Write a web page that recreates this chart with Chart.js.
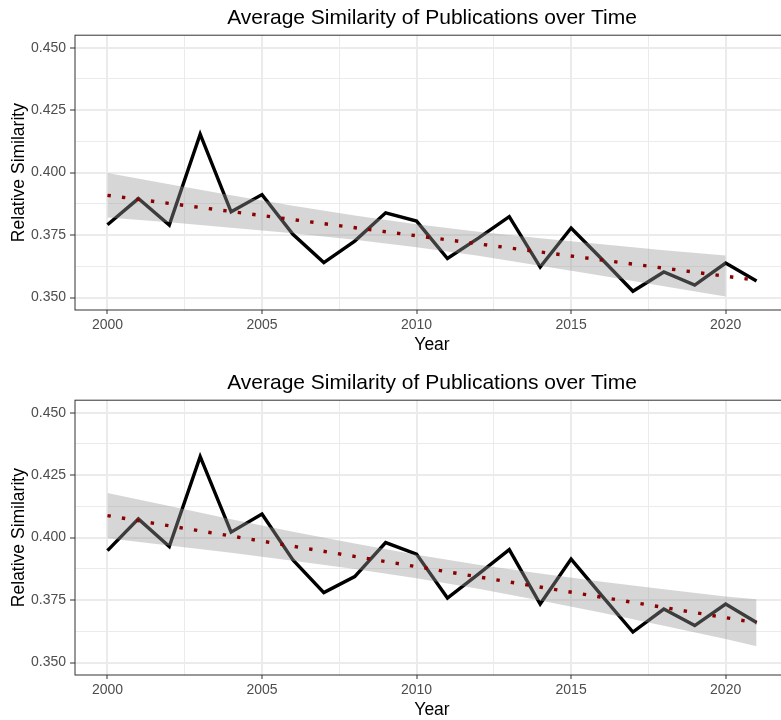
<!DOCTYPE html>
<html>
<head>
<meta charset="utf-8">
<script src="https://cdn.jsdelivr.net/npm/chart.js@4.4.1/dist/chart.umd.min.js"></script>
<style>
html, body { margin: 0; padding: 0; background: #fff; overflow: hidden; }
.wrap { width: 781px; overflow: hidden; }
canvas { display: block; }
</style>
</head>
<body>
<div class="wrap">
  <canvas id="chartTop" width="789" height="365"></canvas>
  <canvas id="chartBottom" width="789" height="355"></canvas>
</div>
<script>
const titleText = "Average Similarity of Publications over Time";
const years = [2000, 2001, 2002, 2003, 2004, 2005, 2006, 2007, 2008, 2009, 2010,
               2011, 2012, 2013, 2014, 2015, 2016, 2017, 2018, 2019, 2020, 2021];
const similarityTop = [0.3791, 0.3896, 0.3790, 0.4154, 0.3843, 0.3912, 0.3753, 0.3640, 0.3726, 0.3839, 0.3806,
                       0.3656, 0.3738, 0.3824, 0.3622, 0.3778, 0.3653, 0.3525, 0.3602, 0.3550, 0.3638, 0.3566];
const similarityBottom = [0.3948, 0.4075, 0.3964, 0.4324, 0.4022, 0.4094, 0.3911, 0.3780, 0.3844, 0.3980, 0.3934,
                          0.3758, 0.3854, 0.3952, 0.3734, 0.3914, 0.3767, 0.3622, 0.3714, 0.3648, 0.3734, 0.3660];

// linear trend (dotted red)
const fitYears = [2000, 2021];
const fitTop = [0.3909, 0.3569];
const fitBottom = [0.4088, 0.3659];

// confidence band (grey ribbon)
const bandYearsTop = [2000, 2002, 2004, 2006, 2008, 2010, 2012, 2014, 2016, 2018, 2020];
const bandUpperTop = [0.3998, 0.3953, 0.3909, 0.3867, 0.3828, 0.3793, 0.3763, 0.3737, 0.3713, 0.3689, 0.3668];
const bandLowerTop = [0.3820, 0.3801, 0.3779, 0.3757, 0.3731, 0.3701, 0.3667, 0.3627, 0.3587, 0.3545, 0.3504];
const bandYearsBottom = [2000, 2002, 2004, 2006, 2008, 2010, 2012, 2014, 2016, 2018, 2020, 2021];
const bandUpperBottom = [0.4179, 0.4126, 0.4073, 0.4023, 0.3976, 0.3931, 0.3891, 0.3856, 0.3823, 0.3793, 0.3764, 0.3753];
const bandLowerBottom = [0.3997, 0.3968, 0.3939, 0.3907, 0.3874, 0.3837, 0.3795, 0.3748, 0.3699, 0.3647, 0.3594, 0.3565];

const xMajorTicks = [2000, 2005, 2010, 2015, 2020];
const xMinorTicks = [2002.5, 2007.5, 2012.5, 2017.5];
const yMajorTicks = [0.350, 0.375, 0.400, 0.425, 0.450];
const yMinorTicks = [0.3625, 0.3875, 0.4125, 0.4375];

Chart.defaults.font.family = '"Liberation Sans", Arial, sans-serif';

const pts = (xs, ys) => xs.map((x, i) => ({x: x, y: ys[i]}));
const isMajor = (list, ctx) => ctx.tick && list.some(v => Math.abs(v - ctx.tick.value) < 1e-6);

const panelBorder = {
  id: 'panelBorder',
  afterDatasetsDraw(chart) {
    const a = chart.chartArea;
    const ctx = chart.ctx;
    ctx.save();
    ctx.strokeStyle = '#333333';
    ctx.lineWidth = 1;
    ctx.strokeRect(a.left, a.top, a.right - a.left, a.bottom - a.top);
    ctx.restore();
  }
};

function makeChart(id, series, fit, bandYears, bandUpper, bandLower, padBottom) {
  new Chart(document.getElementById(id), {
    type: 'line',
    data: {
      datasets: [
        {
          data: pts(fitYears, fit),
          borderColor: '#8b0000',
          borderWidth: 3.4,
          borderDash: [3.4, 11.2],
          borderCapStyle: 'butt',
          pointRadius: 0,
          fill: false
        },
        {
          data: pts(bandYears, bandUpper),
          borderWidth: 0,
          pointRadius: 0,
          backgroundColor: 'rgba(153,153,153,0.4)',
          fill: '+1'
        },
        {
          data: pts(bandYears, bandLower),
          borderWidth: 0,
          pointRadius: 0,
          fill: false
        },
        {
          data: pts(years, series),
          borderColor: '#000000',
          borderWidth: 3.4,
          borderJoinStyle: 'miter',
          pointRadius: 0,
          fill: false
        }
      ]
    },
    options: {
      responsive: false,
      animation: false,
      layout: { padding: { left: 0, right: 0, top: 0, bottom: padBottom } },
      plugins: {
        legend: { display: false },
        tooltip: { enabled: false },
        title: {
          display: true,
          text: titleText,
          fullSize: false,
          color: '#000',
          font: { size: 21, weight: 'normal' },
          padding: { top: 6, bottom: 4 }
        }
      },
      scales: {
        x: {
          type: 'linear',
          min: 1998.95,
          max: 2022.05,
          afterFit: s => { s.height = 44; },
          afterBuildTicks: s => { s.ticks = xMajorTicks.concat(xMinorTicks).sort((a, b) => a - b).map(v => ({value: v})); },
          ticks: {
            autoSkip: false,
            maxRotation: 0,
            padding: 3,
            color: '#4d4d4d',
            font: { size: 14 },
            callback: v => xMajorTicks.includes(v) ? String(v) : ''
          },
          grid: {
            color: '#ebebeb',
            lineWidth: ctx => isMajor(xMajorTicks, ctx) ? 2 : 1,
            tickColor: ctx => isMajor(xMajorTicks, ctx) ? '#333333' : 'rgba(0,0,0,0)',
            tickWidth: 1,
            tickLength: 4
          },
          border: { display: false },
          title: {
            display: true,
            text: 'Year',
            color: '#000',
            font: { size: 17.5, lineHeight: 1 },
            padding: { top: 0, bottom: 0 }
          }
        },
        y: {
          min: 0.345,
          max: 0.455,
          afterFit: s => { s.width = 75; },
          afterBuildTicks: s => { s.ticks = yMajorTicks.concat(yMinorTicks).sort((a, b) => a - b).map(v => ({value: v})); },
          ticks: {
            autoSkip: false,
            padding: 4,
            color: '#4d4d4d',
            font: { size: 14 },
            callback: v => yMajorTicks.some(m => Math.abs(m - v) < 1e-6) ? v.toFixed(3) : ''
          },
          grid: {
            color: '#ebebeb',
            lineWidth: ctx => isMajor(yMajorTicks, ctx) ? 2 : 1,
            tickColor: ctx => isMajor(yMajorTicks, ctx) ? '#333333' : 'rgba(0,0,0,0)',
            tickWidth: 1,
            tickLength: 5
          },
          border: { display: false },
          title: {
            display: true,
            text: 'Relative Similarity',
            color: '#000',
            font: { size: 17.5 },
            padding: { top: 9, bottom: 0 }
          }
        }
      }
    },
    plugins: [panelBorder]
  });
}

makeChart('chartTop', similarityTop, fitTop, bandYearsTop, bandUpperTop, bandLowerTop, 11);
makeChart('chartBottom', similarityBottom, fitBottom, bandYearsBottom, bandUpperBottom, bandLowerBottom, 1);
</script>
</body>
</html>
